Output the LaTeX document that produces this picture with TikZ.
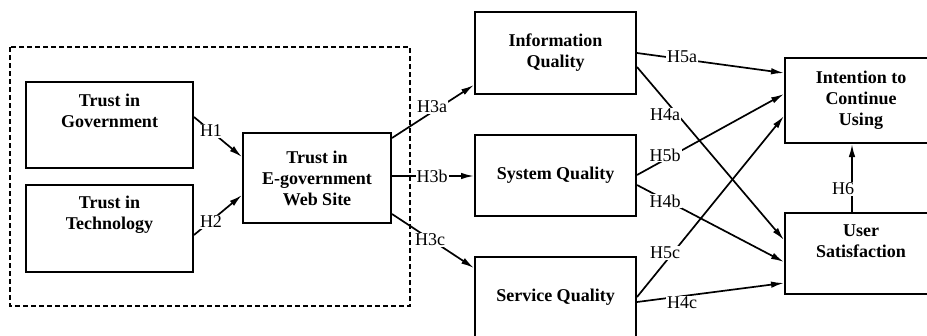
\documentclass[tikz,border=0pt]{standalone}
\usepackage{fontspec}
\setmainfont{Liberation Serif}
\usetikzlibrary{arrows.meta}

\begin{document}
\begin{tikzpicture}[x=1pt,y=-1pt,
  construct/.style={draw, line width=2pt, align=center, inner sep=0pt,
    font=\fontsize{18}{21}\selectfont\bfseries},
  boxtext/.style={anchor=north, align=center, inner sep=0pt,
    font=\fontsize{18}{21}\selectfont\bfseries},
  link/.style={line width=1.7pt, -{Latex[length=13pt,width=6.5pt]}},
  hyp/.style={fill=white, inner sep=1pt, font=\fontsize{18}{21}\selectfont}]
  \clip (0,0) rectangle (927,335);
  % trust antecedents
  \draw[line width=1.6pt, dash pattern=on 5pt off 3pt] (10,47) rectangle (410,306);
  \node[construct, minimum width=167pt, minimum height=86pt] (gov) at (109.5,125) {};
  \node[boxtext] (govtxt) at ([yshift=-13pt]gov.north) {Trust in\\Government};
  \node[construct, minimum width=167pt, minimum height=87pt] (tech) at (109.5,228.5) {};
  \node[boxtext] (techtxt) at ([yshift=-12pt]tech.north) {Trust in\\Technology};
  \node[construct, minimum width=148pt, minimum height=90pt] (egov) at (317,178) {Trust in\\E-government\\Web Site};
  % quality constructs
  \node[construct, minimum width=161pt, minimum height=82pt] (infoq) at (555.5,53) {Information\\Quality};
  \node[construct, minimum width=161pt, minimum height=81pt] (sysq) at (555.5,175.5) {System Quality};
  \node[construct, minimum width=161pt, minimum height=80pt] (servq) at (555.5,297) {Service Quality};
  % outcomes
  \node[construct, minimum width=152pt, minimum height=85pt] (intent) at (861,100.5) {Intention to\\Continue\\Using};
  \node[construct, minimum width=152pt, minimum height=81pt] (usersat) at (861,253.5) {};
  \node[boxtext] (usertxt) at ([yshift=-13pt]usersat.north) {User\\Satisfaction};
  % hypotheses
  \draw[link] (gov.east |- 0,117) -- (egov.west |- 0,157) node[hyp] (h1) at (211,131) {H1};
  \draw[link] (tech.east |- 0,235) -- (egov.west |- 0,195) node[hyp] (h2) at (211,222) {H2};
  \draw[link] (egov.east |- 0,138) -- (infoq.west |- 0,85) node[hyp] (h3a) at (432,107) {H3a};
  \draw[link] (egov.east |- 0,176) -- (sysq.west |- 0,176) node[hyp] (h3b) at (432,176) {H3b};
  \draw[link] (egov.east |- 0,214) -- (servq.west |- 0,268) node[hyp] (h3c) at (430,240) {H3c};
  \draw[link] (infoq.east |- 0,53) -- (intent.west |- 0,73) node[hyp] (h5a) at (682,57) {H5a};
  \draw[link] (infoq.east |- 0,67) -- (usersat.west |- 0,240) node[hyp] (h4a) at (665,115) {H4a};
  \draw[link] (sysq.east |- 0,175) -- (intent.west |- 0,94) node[hyp] (h5b) at (665,155) {H5b};
  \draw[link] (sysq.east |- 0,185) -- (usersat.west |- 0,262) node[hyp] (h4b) at (665,201) {H4b};
  \draw[link] (servq.east |- 0,297) -- (intent.west |- 0,116) node[hyp] (h5c) at (665,253) {H5c};
  \draw[link] (servq.east |- 0,302) -- (usersat.west |- 0,283) node[hyp] (h4c) at (682,303) {H4c};
  \draw[link] (usersat.north -| 852,0) -- (intent.south -| 852,0) node[hyp] (h6) at (843,189) {H6};
\end{tikzpicture}
\end{document}
